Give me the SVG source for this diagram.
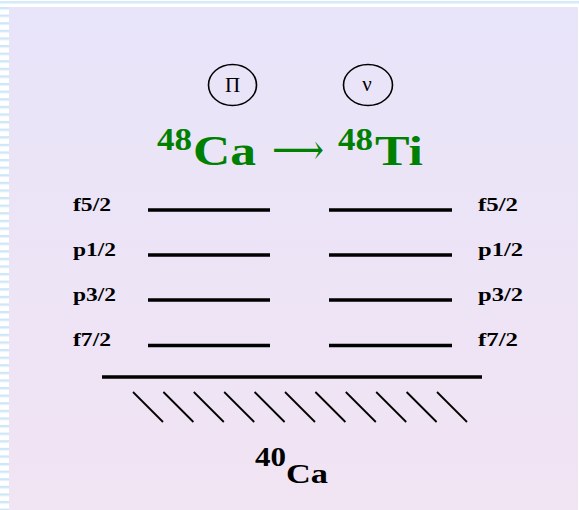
<svg xmlns="http://www.w3.org/2000/svg" width="579" height="510" viewBox="0 0 579 510">
<defs>
<linearGradient id="bg" x1="0" y1="0" x2="0" y2="1">
<stop offset="0" stop-color="#E8E4F9"/>
<stop offset="1" stop-color="#F1E4F3"/>
</linearGradient>
<pattern id="stripes" x="0" y="7" width="9" height="7.6" patternUnits="userSpaceOnUse">
<rect x="0" y="0" width="9" height="7.6" fill="#FFFFFF"/>
<rect x="0" y="0" width="9" height="2" fill="#CDE7F8"/>
<rect x="0" y="2" width="9" height="1" fill="#E6F2FB"/>
</pattern>
</defs>
<style>
text{font-family:'Liberation Serif','DejaVu Serif',serif}
.lbl{font-weight:bold;fill:#000}
.title{font-weight:bold;fill:#008000}
.arrow{font-weight:normal;fill:#008000}
.lvl{stroke:#000;stroke-width:3.6;fill:none}
.hatch{stroke:#000;stroke-width:1.8;fill:none}
.circ{fill:none;stroke:#000;stroke-width:1.6}
.greek{fill:#000}
</style>
<rect x="0" y="0" width="579" height="510" fill="#FFFFFF"/>
<rect x="0" y="1" width="579" height="2" fill="#D4EBFA"/>
<rect x="0" y="3" width="579" height="1" fill="#E8F3FC"/>
<rect x="0" y="7" width="9" height="503" fill="url(#stripes)"/>
<rect x="9" y="7" width="569" height="503" fill="url(#bg)"/>

<g id="proton">
<ellipse class="circ" cx="232.5" cy="85" rx="24" ry="20.5"/>
<text class="greek" x="232.5" y="92" font-size="21" text-anchor="middle">Π</text>
</g>
<g id="neutron">
<ellipse class="circ" cx="368" cy="85" rx="24.5" ry="20.5"/>
<text class="greek" x="367" y="91" font-size="21" text-anchor="middle">ν</text>
</g>

<g id="title">
<text class="title" x="157" y="150" font-size="31" textLength="35" lengthAdjust="spacingAndGlyphs">48</text>
<text class="title" x="193" y="165" font-size="42" textLength="63" lengthAdjust="spacingAndGlyphs">Ca</text>
<text class="arrow" x="272" y="164" font-size="42" textLength="52" lengthAdjust="spacingAndGlyphs">⟶</text>
<text class="title" x="338" y="150" font-size="31" textLength="35" lengthAdjust="spacingAndGlyphs">48</text>
<text class="title" x="375" y="165" font-size="42" textLength="48" lengthAdjust="spacingAndGlyphs">Ti</text>
</g>

<g id="labels-left">
<text class="lbl" x="73" y="211" font-size="19" textLength="38" lengthAdjust="spacingAndGlyphs">f5/2</text>
<text class="lbl" x="73" y="256" font-size="19" textLength="43" lengthAdjust="spacingAndGlyphs">p1/2</text>
<text class="lbl" x="73" y="301" font-size="19" textLength="43" lengthAdjust="spacingAndGlyphs">p3/2</text>
<text class="lbl" x="73" y="346" font-size="19" textLength="38" lengthAdjust="spacingAndGlyphs">f7/2</text>
</g>
<g id="labels-right">
<text class="lbl" x="478" y="211" font-size="19" textLength="40" lengthAdjust="spacingAndGlyphs">f5/2</text>
<text class="lbl" x="478" y="256" font-size="19" textLength="45" lengthAdjust="spacingAndGlyphs">p1/2</text>
<text class="lbl" x="478" y="301" font-size="19" textLength="45" lengthAdjust="spacingAndGlyphs">p3/2</text>
<text class="lbl" x="478" y="346" font-size="19" textLength="40" lengthAdjust="spacingAndGlyphs">f7/2</text>
</g>

<g id="levels">
<line class="lvl" x1="148" y1="210" x2="270" y2="210"/>
<line class="lvl" x1="148" y1="255" x2="270" y2="255"/>
<line class="lvl" x1="148" y1="300" x2="270" y2="300"/>
<line class="lvl" x1="148" y1="345.5" x2="270" y2="345.5"/>
<line class="lvl" x1="329" y1="210" x2="452" y2="210"/>
<line class="lvl" x1="329" y1="255" x2="452" y2="255"/>
<line class="lvl" x1="329" y1="300" x2="452" y2="300"/>
<line class="lvl" x1="329" y1="345.5" x2="452" y2="345.5"/>
</g>

<g id="core">
<line class="lvl" x1="102" y1="377" x2="482" y2="377" stroke-width="4"/>
<line class="hatch" x1="133" y1="392" x2="163" y2="422"/>
<line class="hatch" x1="163.4" y1="392" x2="193.4" y2="422"/>
<line class="hatch" x1="193.8" y1="392" x2="223.8" y2="422"/>
<line class="hatch" x1="224.2" y1="392" x2="254.2" y2="422"/>
<line class="hatch" x1="254.6" y1="392" x2="284.6" y2="422"/>
<line class="hatch" x1="285" y1="392" x2="315" y2="422"/>
<line class="hatch" x1="315.4" y1="392" x2="345.4" y2="422"/>
<line class="hatch" x1="345.8" y1="392" x2="375.8" y2="422"/>
<line class="hatch" x1="376.2" y1="392" x2="406.2" y2="422"/>
<line class="hatch" x1="406.6" y1="392" x2="436.6" y2="422"/>
<line class="hatch" x1="437" y1="392" x2="467" y2="422"/>
<text class="lbl" x="255" y="466" font-size="28" textLength="31" lengthAdjust="spacingAndGlyphs">40</text>
<text class="lbl" x="286" y="483" font-size="27" textLength="42" lengthAdjust="spacingAndGlyphs">Ca</text>
</g>
</svg>
